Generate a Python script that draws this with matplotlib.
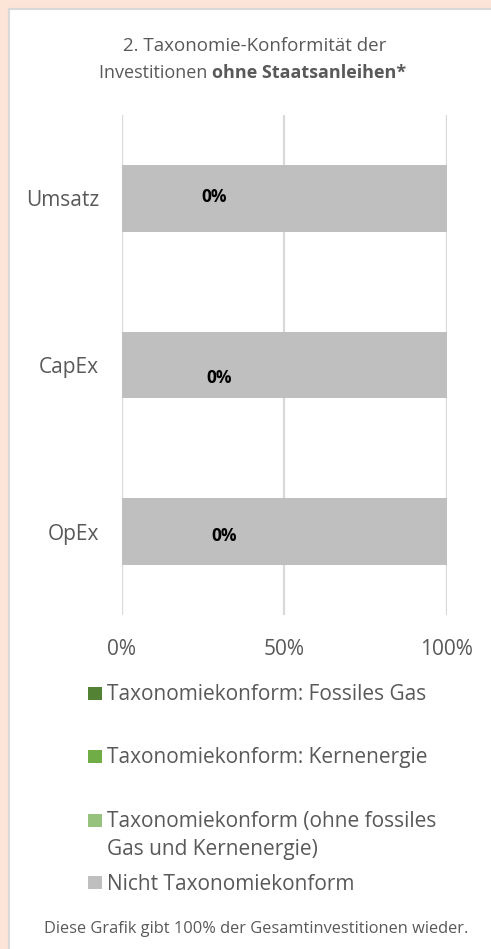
#!/usr/bin/env python

"""
Taxonomie-Konformitaet der Investitionen ohne Staatsanleihen -
gestapeltes Balkendiagramm mit manueller Legende.
"""

import matplotlib
matplotlib.use("Agg")
import matplotlib.pyplot as plt
from matplotlib.patches import Rectangle

plt.rcParams['font.family'] = ['Open Sans', 'DejaVu Sans']

W, H = 491, 949

# data
categories = ["Umsatz", "CapEx", "OpEx"]
fossiles_gas = [0, 0, 0]
kernenergie = [0, 0, 0]
taxo_ohne = [0, 0, 0]
nicht_taxo = [100, 100, 100]
bar_labels = ["0%", "0%", "0%"]
x_ticks = [0, 50, 100]
x_ticklabels = ["0%", "50%", "100%"]

series_names = [
    "Taxonomiekonform: Fossiles Gas",
    "Taxonomiekonform: Kernenergie",
    "Taxonomiekonform (ohne fossiles\nGas und Kernenergie)",
    "Nicht Taxonomiekonform",
]
colors = ["#548235", "#70AD47", "#97C27E", "#BFBFBF"]

TEXT = "#595959"


def px(x, y):
    """pixel coords (top-left origin) -> figure fraction"""
    return x / W, 1 - y / H


def main() -> None:
    fig = plt.figure(figsize=(W / 100, H / 100), dpi=100)
    fig.patch.set_facecolor("#FCE4D6")

    # white panel with grey border
    fig.patches.append(Rectangle(px(9, 960), 500 / W, 951 / H,
                                 transform=fig.transFigure,
                                 facecolor="white", edgecolor="#D9D9D9",
                                 linewidth=1.5, zorder=-5))

    ax = fig.add_axes([122 / W, 1 - 615 / H, 324.5 / W, 500 / H])
    ax.set_zorder(2)
    ax.set_facecolor("none")
    ypos = list(range(len(categories)))
    left = [0] * len(categories)
    for vals, c in zip([fossiles_gas, kernenergie, taxo_ohne, nicht_taxo], colors):
        ax.barh(ypos, vals, left=left, height=0.4, color=c, zorder=2)
        left = [a + b for a, b in zip(left, vals)]

    ax.set_xlim(0, 100)
    ax.set_ylim(2.5, -0.5)
    ax.set_xticks(x_ticks)
    ax.set_xticklabels(x_ticklabels)
    ax.set_yticks(ypos)
    ax.set_yticklabels(categories)
    ax.tick_params(length=0, labelsize=15, labelcolor=TEXT)
    ax.tick_params(axis="x", pad=17)
    ax.tick_params(axis="y", pad=16.5)
    for s in ax.spines.values():
        s.set_visible(False)
    ax.grid(axis="x", color="#D9D9D9", linewidth=1.6, zorder=1)
    ax.set_axisbelow(True)

    # data labels (placed as in the original)
    lab_dx = [28.5, 30.0, 31.6]
    lab_dy = [-0.01, 0.08, 0.025]
    for i, t in enumerate(bar_labels):
        ax.text(lab_dx[i], ypos[i] + lab_dy[i], t, ha="center", va="center",
                fontsize=12.5, fontweight="bold", color="black", zorder=3)

    # title
    fig.text(*px(255, 46), "2. Taxonomie-Konformität der", ha="center",
             va="center", fontsize=13.5, color=TEXT)
    t1 = fig.text(*px(0, 73), "Investitionen ", ha="left", va="center",
                  fontsize=13, color=TEXT)
    t2 = fig.text(*px(0, 73), "ohne Staatsanleihen*", ha="left", va="center",
                  fontsize=13, fontweight="bold", color=TEXT)
    fig.canvas.draw()
    r = fig.canvas.get_renderer()
    w1 = t1.get_window_extent(r).width
    w2 = t2.get_window_extent(r).width
    x0 = 253 - (w1 + w2) / 2
    t1.set_x(x0 / W)
    t2.set_x((x0 + w1) / W)

    # legend
    leg_y = [693, 756, 820, 882]
    for name, c, y in zip(series_names, colors, leg_y):
        fig.patches.append(Rectangle(px(88, y + 7), 13.5 / W, 13.5 / H,
                                     transform=fig.transFigure,
                                     facecolor=c, edgecolor="none"))
        for k, line in enumerate(name.split("\n")):
            fig.text(*px(107, y + 2 + 28 * k), line, ha="left", va="center",
                     fontsize=15, color=TEXT)

    fig.text(*px(256, 929), "Diese Grafik gibt 100% der Gesamtinvestitionen wieder.",
             ha="center", va="center", fontsize=11.8, color=TEXT)

    fig.savefig("out.png", dpi=100)


if __name__ == "__main__":
    main()
